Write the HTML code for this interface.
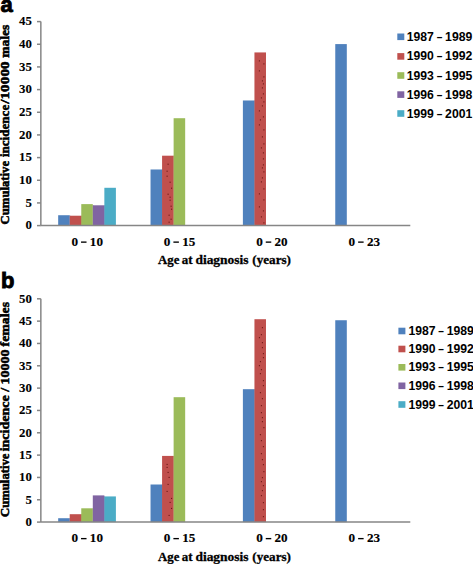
<!DOCTYPE html>
<html><head><meta charset="utf-8"><style>
html,body{margin:0;padding:0;background:#fff;}
body{width:473px;height:564px;overflow:hidden;}
svg{display:block;}
</style></head><body>
<svg width="473" height="564" viewBox="0 0 473 564">
<rect width="473" height="564" fill="#fff"/>
<rect x="58.17" y="215.22" width="11.55" height="10.38" fill="#4F81BD"/>
<rect x="69.61" y="215.72" width="0.8" height="9.88" fill="#4F81BD"/>
<rect x="69.71" y="215.72" width="11.55" height="9.88" fill="#C0504D"/>
<rect x="81.16" y="215.72" width="0.8" height="9.88" fill="#C0504D"/>
<rect x="81.26" y="204.11" width="11.55" height="21.49" fill="#9BBB59"/>
<rect x="92.70" y="205.29" width="0.8" height="20.31" fill="#9BBB59"/>
<rect x="92.80" y="205.29" width="11.55" height="20.31" fill="#8064A2"/>
<rect x="104.25" y="205.29" width="0.8" height="20.31" fill="#8064A2"/>
<rect x="104.35" y="187.79" width="11.55" height="37.81" fill="#4BACC6"/>
<rect x="150.53" y="169.48" width="11.55" height="56.12" fill="#4F81BD"/>
<rect x="161.98" y="169.48" width="0.8" height="56.12" fill="#4F81BD"/>
<rect x="162.08" y="155.70" width="11.55" height="69.90" fill="#C0504D"/>
<rect x="173.52" y="155.70" width="0.8" height="69.90" fill="#C0504D"/>
<rect x="173.62" y="118.21" width="11.55" height="107.39" fill="#9BBB59"/>
<rect x="242.89" y="100.48" width="11.55" height="125.12" fill="#4F81BD"/>
<rect x="254.34" y="100.48" width="0.8" height="125.12" fill="#4F81BD"/>
<rect x="254.44" y="52.43" width="11.55" height="173.17" fill="#C0504D"/>
<rect x="335.26" y="44.09" width="11.55" height="181.51" fill="#4F81BD"/>
<rect x="167.6" y="163.7" width="1" height="1" fill="#5a0c0a"/>
<rect x="166.6" y="170.7" width="1" height="1" fill="#5a0c0a"/>
<rect x="166.6" y="175.7" width="1" height="1" fill="#5a0c0a"/>
<rect x="169.6" y="181.7" width="1" height="1" fill="#5a0c0a"/>
<rect x="171.1" y="187.7" width="1" height="1" fill="#5a0c0a"/>
<rect x="167.6" y="193.7" width="1" height="1" fill="#5a0c0a"/>
<rect x="169.6" y="196.7" width="1" height="1" fill="#5a0c0a"/>
<rect x="169.6" y="199.7" width="1" height="1" fill="#5a0c0a"/>
<rect x="170.6" y="205.7" width="1" height="1" fill="#5a0c0a"/>
<rect x="171.1" y="208.7" width="1" height="1" fill="#5a0c0a"/>
<rect x="168.6" y="214.7" width="1" height="1" fill="#5a0c0a"/>
<rect x="170.6" y="218.7" width="1" height="1" fill="#5a0c0a"/>
<rect x="168.6" y="221.7" width="1" height="1" fill="#5a0c0a"/>
<rect x="258.9" y="60.4" width="1" height="1" fill="#5a0c0a"/>
<rect x="263.4" y="63.4" width="1" height="1" fill="#5a0c0a"/>
<rect x="258.9" y="70.4" width="1" height="1" fill="#5a0c0a"/>
<rect x="263.4" y="76.4" width="1" height="1" fill="#5a0c0a"/>
<rect x="261.9" y="80.4" width="1" height="1" fill="#5a0c0a"/>
<rect x="262.9" y="83.4" width="1" height="1" fill="#5a0c0a"/>
<rect x="261.9" y="87.4" width="1" height="1" fill="#5a0c0a"/>
<rect x="262.9" y="93.4" width="1" height="1" fill="#5a0c0a"/>
<rect x="260.9" y="97.4" width="1" height="1" fill="#5a0c0a"/>
<rect x="263.4" y="101.4" width="1" height="1" fill="#5a0c0a"/>
<rect x="261.9" y="105.4" width="1" height="1" fill="#5a0c0a"/>
<rect x="258.9" y="110.4" width="1" height="1" fill="#5a0c0a"/>
<rect x="262.9" y="116.4" width="1" height="1" fill="#5a0c0a"/>
<rect x="259.9" y="119.4" width="1" height="1" fill="#5a0c0a"/>
<rect x="258.9" y="124.4" width="1" height="1" fill="#5a0c0a"/>
<rect x="263.4" y="129.4" width="1" height="1" fill="#5a0c0a"/>
<rect x="261.9" y="136.4" width="1" height="1" fill="#5a0c0a"/>
<rect x="263.4" y="143.4" width="1" height="1" fill="#5a0c0a"/>
<rect x="260.9" y="147.4" width="1" height="1" fill="#5a0c0a"/>
<rect x="262.9" y="152.4" width="1" height="1" fill="#5a0c0a"/>
<rect x="262.9" y="158.4" width="1" height="1" fill="#5a0c0a"/>
<rect x="262.9" y="164.4" width="1" height="1" fill="#5a0c0a"/>
<rect x="261.9" y="167.4" width="1" height="1" fill="#5a0c0a"/>
<rect x="263.4" y="171.4" width="1" height="1" fill="#5a0c0a"/>
<rect x="261.9" y="177.4" width="1" height="1" fill="#5a0c0a"/>
<rect x="260.9" y="181.4" width="1" height="1" fill="#5a0c0a"/>
<rect x="263.4" y="188.4" width="1" height="1" fill="#5a0c0a"/>
<rect x="258.9" y="193.4" width="1" height="1" fill="#5a0c0a"/>
<rect x="263.4" y="199.4" width="1" height="1" fill="#5a0c0a"/>
<rect x="258.9" y="206.4" width="1" height="1" fill="#5a0c0a"/>
<rect x="262.9" y="210.4" width="1" height="1" fill="#5a0c0a"/>
<rect x="260.9" y="216.4" width="1" height="1" fill="#5a0c0a"/>
<rect x="263.4" y="222.4" width="1" height="1" fill="#5a0c0a"/>
<line x1="40.85" y1="21.60" x2="40.85" y2="225.60" stroke="#868686" stroke-width="1.5"/>
<line x1="40.85" y1="225.60" x2="410.3" y2="225.60" stroke="#868686" stroke-width="1.5"/>
<line x1="37" y1="225.60" x2="40.85" y2="225.60" stroke="#868686" stroke-width="1.5"/>
<text x="31.9" y="229.40" text-anchor="end" textLength="6.4" lengthAdjust="spacingAndGlyphs" style="font-family:'Liberation Serif',serif;font-weight:bold;stroke:#000;stroke-width:0.3px;font-size:13.5px;stroke-width:0.1px">0</text>
<line x1="37" y1="202.93" x2="40.85" y2="202.93" stroke="#868686" stroke-width="1.5"/>
<text x="31.9" y="206.73" text-anchor="end" textLength="6.4" lengthAdjust="spacingAndGlyphs" style="font-family:'Liberation Serif',serif;font-weight:bold;stroke:#000;stroke-width:0.3px;font-size:13.5px;stroke-width:0.1px">5</text>
<line x1="37" y1="180.27" x2="40.85" y2="180.27" stroke="#868686" stroke-width="1.5"/>
<text x="31.9" y="184.07" text-anchor="end" textLength="12.8" lengthAdjust="spacingAndGlyphs" style="font-family:'Liberation Serif',serif;font-weight:bold;stroke:#000;stroke-width:0.3px;font-size:13.5px;stroke-width:0.1px">10</text>
<line x1="37" y1="157.60" x2="40.85" y2="157.60" stroke="#868686" stroke-width="1.5"/>
<text x="31.9" y="161.40" text-anchor="end" textLength="12.8" lengthAdjust="spacingAndGlyphs" style="font-family:'Liberation Serif',serif;font-weight:bold;stroke:#000;stroke-width:0.3px;font-size:13.5px;stroke-width:0.1px">15</text>
<line x1="37" y1="134.93" x2="40.85" y2="134.93" stroke="#868686" stroke-width="1.5"/>
<text x="31.9" y="138.73" text-anchor="end" textLength="12.8" lengthAdjust="spacingAndGlyphs" style="font-family:'Liberation Serif',serif;font-weight:bold;stroke:#000;stroke-width:0.3px;font-size:13.5px;stroke-width:0.1px">20</text>
<line x1="37" y1="112.27" x2="40.85" y2="112.27" stroke="#868686" stroke-width="1.5"/>
<text x="31.9" y="116.07" text-anchor="end" textLength="12.8" lengthAdjust="spacingAndGlyphs" style="font-family:'Liberation Serif',serif;font-weight:bold;stroke:#000;stroke-width:0.3px;font-size:13.5px;stroke-width:0.1px">25</text>
<line x1="37" y1="89.60" x2="40.85" y2="89.60" stroke="#868686" stroke-width="1.5"/>
<text x="31.9" y="93.40" text-anchor="end" textLength="12.8" lengthAdjust="spacingAndGlyphs" style="font-family:'Liberation Serif',serif;font-weight:bold;stroke:#000;stroke-width:0.3px;font-size:13.5px;stroke-width:0.1px">30</text>
<line x1="37" y1="66.93" x2="40.85" y2="66.93" stroke="#868686" stroke-width="1.5"/>
<text x="31.9" y="70.73" text-anchor="end" textLength="12.8" lengthAdjust="spacingAndGlyphs" style="font-family:'Liberation Serif',serif;font-weight:bold;stroke:#000;stroke-width:0.3px;font-size:13.5px;stroke-width:0.1px">35</text>
<line x1="37" y1="44.27" x2="40.85" y2="44.27" stroke="#868686" stroke-width="1.5"/>
<text x="31.9" y="48.07" text-anchor="end" textLength="12.8" lengthAdjust="spacingAndGlyphs" style="font-family:'Liberation Serif',serif;font-weight:bold;stroke:#000;stroke-width:0.3px;font-size:13.5px;stroke-width:0.1px">40</text>
<line x1="37" y1="21.60" x2="40.85" y2="21.60" stroke="#868686" stroke-width="1.5"/>
<text x="31.9" y="25.40" text-anchor="end" textLength="12.8" lengthAdjust="spacingAndGlyphs" style="font-family:'Liberation Serif',serif;font-weight:bold;stroke:#000;stroke-width:0.3px;font-size:13.5px;stroke-width:0.1px">45</text>
<text x="71.43" y="245.50" textLength="6.6" lengthAdjust="spacingAndGlyphs" style="font-family:'Liberation Serif',serif;font-weight:bold;stroke:#000;stroke-width:0.3px;font-size:13.5px;stroke-width:0.15px">0</text>
<rect x="81.03" y="241.45" width="5.5" height="1.35" fill="#000"/>
<text x="89.83" y="245.50" textLength="13.1" lengthAdjust="spacingAndGlyphs" style="font-family:'Liberation Serif',serif;font-weight:bold;stroke:#000;stroke-width:0.3px;font-size:13.5px;stroke-width:0.15px">10</text>
<text x="163.79" y="245.50" textLength="6.6" lengthAdjust="spacingAndGlyphs" style="font-family:'Liberation Serif',serif;font-weight:bold;stroke:#000;stroke-width:0.3px;font-size:13.5px;stroke-width:0.15px">0</text>
<rect x="173.39" y="241.45" width="5.5" height="1.35" fill="#000"/>
<text x="182.19" y="245.50" textLength="13.1" lengthAdjust="spacingAndGlyphs" style="font-family:'Liberation Serif',serif;font-weight:bold;stroke:#000;stroke-width:0.3px;font-size:13.5px;stroke-width:0.15px">15</text>
<text x="256.16" y="245.50" textLength="6.6" lengthAdjust="spacingAndGlyphs" style="font-family:'Liberation Serif',serif;font-weight:bold;stroke:#000;stroke-width:0.3px;font-size:13.5px;stroke-width:0.15px">0</text>
<rect x="265.76" y="241.45" width="5.5" height="1.35" fill="#000"/>
<text x="274.56" y="245.50" textLength="13.1" lengthAdjust="spacingAndGlyphs" style="font-family:'Liberation Serif',serif;font-weight:bold;stroke:#000;stroke-width:0.3px;font-size:13.5px;stroke-width:0.15px">20</text>
<text x="348.52" y="245.50" textLength="6.6" lengthAdjust="spacingAndGlyphs" style="font-family:'Liberation Serif',serif;font-weight:bold;stroke:#000;stroke-width:0.3px;font-size:13.5px;stroke-width:0.15px">0</text>
<rect x="358.12" y="241.45" width="5.5" height="1.35" fill="#000"/>
<text x="366.92" y="245.50" textLength="13.1" lengthAdjust="spacingAndGlyphs" style="font-family:'Liberation Serif',serif;font-weight:bold;stroke:#000;stroke-width:0.3px;font-size:13.5px;stroke-width:0.15px">23</text>
<text x="158.10" y="264.40" textLength="21.30" lengthAdjust="spacingAndGlyphs" style="font-family:'Liberation Serif',serif;font-weight:bold;stroke:#000;stroke-width:0.3px;font-size:13.5px">Age</text>
<text x="181.70" y="264.40" textLength="10.80" lengthAdjust="spacingAndGlyphs" style="font-family:'Liberation Serif',serif;font-weight:bold;stroke:#000;stroke-width:0.3px;font-size:13.5px">at</text>
<text x="195.40" y="264.40" textLength="53.20" lengthAdjust="spacingAndGlyphs" style="font-family:'Liberation Serif',serif;font-weight:bold;stroke:#000;stroke-width:0.3px;font-size:13.5px">diagnosis</text>
<text x="252.30" y="264.40" textLength="38.70" lengthAdjust="spacingAndGlyphs" style="font-family:'Liberation Serif',serif;font-weight:bold;stroke:#000;stroke-width:0.3px;font-size:13.5px">(years)</text>
<text transform="translate(8.7,224.40) rotate(-90)" x="0" y="0" textLength="63.50" lengthAdjust="spacingAndGlyphs" style="font-family:'Liberation Serif',serif;font-weight:bold;stroke:#000;stroke-width:0.3px;font-size:13.5px;stroke-width:0.55px">Cumulative</text>
<text transform="translate(8.7,157.10) rotate(-90)" x="0" y="0" textLength="52.30" lengthAdjust="spacingAndGlyphs" style="font-family:'Liberation Serif',serif;font-weight:bold;stroke:#000;stroke-width:0.3px;font-size:13.5px;stroke-width:0.55px">incidence</text>
<text transform="translate(8.7,103.80) rotate(-90)" x="0" y="0" textLength="42.50" lengthAdjust="spacingAndGlyphs" style="font-family:'Liberation Serif',serif;font-weight:bold;stroke:#000;stroke-width:0.3px;font-size:13.5px;stroke-width:0.55px">/10000</text>
<text transform="translate(8.7,57.80) rotate(-90)" x="0" y="0" textLength="33.20" lengthAdjust="spacingAndGlyphs" style="font-family:'Liberation Serif',serif;font-weight:bold;stroke:#000;stroke-width:0.3px;font-size:13.5px;stroke-width:0.55px">males</text>
<rect x="397.3" y="33.50" width="7" height="6.6" fill="#4F81BD"/>
<rect x="397.3" y="53.10" width="7" height="6.6" fill="#C0504D"/>
<rect x="397.3" y="72.20" width="7" height="6.6" fill="#9BBB59"/>
<rect x="397.3" y="91.30" width="7" height="6.6" fill="#8064A2"/>
<rect x="397.3" y="110.20" width="7" height="6.6" fill="#4BACC6"/>
<text x="406.80" y="40.80" textLength="27.10" lengthAdjust="spacingAndGlyphs" style="font-family:'Liberation Sans',sans-serif;font-weight:bold;font-size:12.3px">1987</text>
<text x="436.70" y="40.80" textLength="5.60" lengthAdjust="spacingAndGlyphs" style="font-family:'Liberation Sans',sans-serif;font-weight:bold;font-size:12.3px">–</text>
<text x="445.10" y="40.80" textLength="27.20" lengthAdjust="spacingAndGlyphs" style="font-family:'Liberation Sans',sans-serif;font-weight:bold;font-size:12.3px">1989</text>
<text x="406.80" y="60.40" textLength="27.10" lengthAdjust="spacingAndGlyphs" style="font-family:'Liberation Sans',sans-serif;font-weight:bold;font-size:12.3px">1990</text>
<text x="436.70" y="60.40" textLength="5.60" lengthAdjust="spacingAndGlyphs" style="font-family:'Liberation Sans',sans-serif;font-weight:bold;font-size:12.3px">–</text>
<text x="445.10" y="60.40" textLength="27.20" lengthAdjust="spacingAndGlyphs" style="font-family:'Liberation Sans',sans-serif;font-weight:bold;font-size:12.3px">1992</text>
<text x="406.80" y="79.50" textLength="27.10" lengthAdjust="spacingAndGlyphs" style="font-family:'Liberation Sans',sans-serif;font-weight:bold;font-size:12.3px">1993</text>
<text x="436.70" y="79.50" textLength="5.60" lengthAdjust="spacingAndGlyphs" style="font-family:'Liberation Sans',sans-serif;font-weight:bold;font-size:12.3px">–</text>
<text x="445.10" y="79.50" textLength="27.20" lengthAdjust="spacingAndGlyphs" style="font-family:'Liberation Sans',sans-serif;font-weight:bold;font-size:12.3px">1995</text>
<text x="406.80" y="98.60" textLength="27.10" lengthAdjust="spacingAndGlyphs" style="font-family:'Liberation Sans',sans-serif;font-weight:bold;font-size:12.3px">1996</text>
<text x="436.70" y="98.60" textLength="5.60" lengthAdjust="spacingAndGlyphs" style="font-family:'Liberation Sans',sans-serif;font-weight:bold;font-size:12.3px">–</text>
<text x="445.10" y="98.60" textLength="27.20" lengthAdjust="spacingAndGlyphs" style="font-family:'Liberation Sans',sans-serif;font-weight:bold;font-size:12.3px">1998</text>
<text x="406.80" y="117.50" textLength="27.10" lengthAdjust="spacingAndGlyphs" style="font-family:'Liberation Sans',sans-serif;font-weight:bold;font-size:12.3px">1999</text>
<text x="436.70" y="117.50" textLength="5.60" lengthAdjust="spacingAndGlyphs" style="font-family:'Liberation Sans',sans-serif;font-weight:bold;font-size:12.3px">–</text>
<text x="445.10" y="117.50" textLength="27.20" lengthAdjust="spacingAndGlyphs" style="font-family:'Liberation Sans',sans-serif;font-weight:bold;font-size:12.3px">2001</text>
<text x="0.5" y="12" style="font-family:'Liberation Sans',sans-serif;font-weight:bold;font-size:22px;stroke:#000;stroke-width:0.9px">a</text>
<rect x="58.17" y="518.21" width="11.55" height="3.89" fill="#4F81BD"/>
<rect x="69.61" y="518.21" width="0.8" height="3.89" fill="#4F81BD"/>
<rect x="69.71" y="514.20" width="11.55" height="7.90" fill="#C0504D"/>
<rect x="81.16" y="514.20" width="0.8" height="7.90" fill="#C0504D"/>
<rect x="81.26" y="508.30" width="11.55" height="13.80" fill="#9BBB59"/>
<rect x="92.70" y="508.30" width="0.8" height="13.80" fill="#9BBB59"/>
<rect x="92.80" y="495.39" width="11.55" height="26.71" fill="#8064A2"/>
<rect x="104.25" y="496.42" width="0.8" height="25.68" fill="#8064A2"/>
<rect x="104.35" y="496.42" width="11.55" height="25.68" fill="#4BACC6"/>
<rect x="150.53" y="484.50" width="11.55" height="37.60" fill="#4F81BD"/>
<rect x="161.98" y="484.50" width="0.8" height="37.60" fill="#4F81BD"/>
<rect x="162.08" y="455.91" width="11.55" height="66.19" fill="#C0504D"/>
<rect x="173.52" y="455.91" width="0.8" height="66.19" fill="#C0504D"/>
<rect x="173.62" y="397.19" width="11.55" height="124.91" fill="#9BBB59"/>
<rect x="242.89" y="389.19" width="11.55" height="132.91" fill="#4F81BD"/>
<rect x="254.34" y="389.19" width="0.8" height="132.91" fill="#4F81BD"/>
<rect x="254.44" y="319.21" width="11.55" height="202.89" fill="#C0504D"/>
<rect x="335.26" y="320.24" width="11.55" height="201.86" fill="#4F81BD"/>
<rect x="166.6" y="463.9" width="1" height="1" fill="#5a0c0a"/>
<rect x="166.6" y="466.9" width="1" height="1" fill="#5a0c0a"/>
<rect x="167.6" y="471.9" width="1" height="1" fill="#5a0c0a"/>
<rect x="168.6" y="476.9" width="1" height="1" fill="#5a0c0a"/>
<rect x="167.6" y="483.9" width="1" height="1" fill="#5a0c0a"/>
<rect x="166.6" y="490.9" width="1" height="1" fill="#5a0c0a"/>
<rect x="171.1" y="497.9" width="1" height="1" fill="#5a0c0a"/>
<rect x="169.6" y="501.9" width="1" height="1" fill="#5a0c0a"/>
<rect x="171.1" y="507.9" width="1" height="1" fill="#5a0c0a"/>
<rect x="168.6" y="514.9" width="1" height="1" fill="#5a0c0a"/>
<rect x="261.9" y="327.2" width="1" height="1" fill="#5a0c0a"/>
<rect x="260.9" y="334.2" width="1" height="1" fill="#5a0c0a"/>
<rect x="258.9" y="337.2" width="1" height="1" fill="#5a0c0a"/>
<rect x="261.9" y="342.2" width="1" height="1" fill="#5a0c0a"/>
<rect x="261.9" y="347.2" width="1" height="1" fill="#5a0c0a"/>
<rect x="262.9" y="353.2" width="1" height="1" fill="#5a0c0a"/>
<rect x="262.9" y="357.2" width="1" height="1" fill="#5a0c0a"/>
<rect x="259.9" y="361.2" width="1" height="1" fill="#5a0c0a"/>
<rect x="258.9" y="365.2" width="1" height="1" fill="#5a0c0a"/>
<rect x="260.9" y="369.2" width="1" height="1" fill="#5a0c0a"/>
<rect x="259.9" y="373.2" width="1" height="1" fill="#5a0c0a"/>
<rect x="262.9" y="380.2" width="1" height="1" fill="#5a0c0a"/>
<rect x="262.9" y="385.2" width="1" height="1" fill="#5a0c0a"/>
<rect x="259.9" y="392.2" width="1" height="1" fill="#5a0c0a"/>
<rect x="261.9" y="398.2" width="1" height="1" fill="#5a0c0a"/>
<rect x="260.9" y="405.2" width="1" height="1" fill="#5a0c0a"/>
<rect x="260.9" y="412.2" width="1" height="1" fill="#5a0c0a"/>
<rect x="261.9" y="417.2" width="1" height="1" fill="#5a0c0a"/>
<rect x="261.9" y="421.2" width="1" height="1" fill="#5a0c0a"/>
<rect x="263.4" y="427.2" width="1" height="1" fill="#5a0c0a"/>
<rect x="259.9" y="434.2" width="1" height="1" fill="#5a0c0a"/>
<rect x="260.9" y="440.2" width="1" height="1" fill="#5a0c0a"/>
<rect x="262.9" y="446.2" width="1" height="1" fill="#5a0c0a"/>
<rect x="260.9" y="453.2" width="1" height="1" fill="#5a0c0a"/>
<rect x="261.9" y="459.2" width="1" height="1" fill="#5a0c0a"/>
<rect x="262.9" y="464.2" width="1" height="1" fill="#5a0c0a"/>
<rect x="263.4" y="471.2" width="1" height="1" fill="#5a0c0a"/>
<rect x="261.9" y="477.2" width="1" height="1" fill="#5a0c0a"/>
<rect x="260.9" y="481.2" width="1" height="1" fill="#5a0c0a"/>
<rect x="262.9" y="485.2" width="1" height="1" fill="#5a0c0a"/>
<rect x="261.9" y="490.2" width="1" height="1" fill="#5a0c0a"/>
<rect x="260.9" y="495.2" width="1" height="1" fill="#5a0c0a"/>
<rect x="262.9" y="502.2" width="1" height="1" fill="#5a0c0a"/>
<rect x="262.9" y="509.2" width="1" height="1" fill="#5a0c0a"/>
<rect x="262.9" y="516.2" width="1" height="1" fill="#5a0c0a"/>
<line x1="40.85" y1="298.80" x2="40.85" y2="522.10" stroke="#868686" stroke-width="1.5"/>
<line x1="40.85" y1="522.10" x2="410.3" y2="522.10" stroke="#868686" stroke-width="1.5"/>
<line x1="37" y1="522.10" x2="40.85" y2="522.10" stroke="#868686" stroke-width="1.5"/>
<text x="31.9" y="525.90" text-anchor="end" textLength="6.4" lengthAdjust="spacingAndGlyphs" style="font-family:'Liberation Serif',serif;font-weight:bold;stroke:#000;stroke-width:0.3px;font-size:13.5px;stroke-width:0.1px">0</text>
<line x1="37" y1="499.77" x2="40.85" y2="499.77" stroke="#868686" stroke-width="1.5"/>
<text x="31.9" y="503.57" text-anchor="end" textLength="6.4" lengthAdjust="spacingAndGlyphs" style="font-family:'Liberation Serif',serif;font-weight:bold;stroke:#000;stroke-width:0.3px;font-size:13.5px;stroke-width:0.1px">5</text>
<line x1="37" y1="477.44" x2="40.85" y2="477.44" stroke="#868686" stroke-width="1.5"/>
<text x="31.9" y="481.24" text-anchor="end" textLength="12.8" lengthAdjust="spacingAndGlyphs" style="font-family:'Liberation Serif',serif;font-weight:bold;stroke:#000;stroke-width:0.3px;font-size:13.5px;stroke-width:0.1px">10</text>
<line x1="37" y1="455.11" x2="40.85" y2="455.11" stroke="#868686" stroke-width="1.5"/>
<text x="31.9" y="458.91" text-anchor="end" textLength="12.8" lengthAdjust="spacingAndGlyphs" style="font-family:'Liberation Serif',serif;font-weight:bold;stroke:#000;stroke-width:0.3px;font-size:13.5px;stroke-width:0.1px">15</text>
<line x1="37" y1="432.78" x2="40.85" y2="432.78" stroke="#868686" stroke-width="1.5"/>
<text x="31.9" y="436.58" text-anchor="end" textLength="12.8" lengthAdjust="spacingAndGlyphs" style="font-family:'Liberation Serif',serif;font-weight:bold;stroke:#000;stroke-width:0.3px;font-size:13.5px;stroke-width:0.1px">20</text>
<line x1="37" y1="410.45" x2="40.85" y2="410.45" stroke="#868686" stroke-width="1.5"/>
<text x="31.9" y="414.25" text-anchor="end" textLength="12.8" lengthAdjust="spacingAndGlyphs" style="font-family:'Liberation Serif',serif;font-weight:bold;stroke:#000;stroke-width:0.3px;font-size:13.5px;stroke-width:0.1px">25</text>
<line x1="37" y1="388.12" x2="40.85" y2="388.12" stroke="#868686" stroke-width="1.5"/>
<text x="31.9" y="391.92" text-anchor="end" textLength="12.8" lengthAdjust="spacingAndGlyphs" style="font-family:'Liberation Serif',serif;font-weight:bold;stroke:#000;stroke-width:0.3px;font-size:13.5px;stroke-width:0.1px">30</text>
<line x1="37" y1="365.79" x2="40.85" y2="365.79" stroke="#868686" stroke-width="1.5"/>
<text x="31.9" y="369.59" text-anchor="end" textLength="12.8" lengthAdjust="spacingAndGlyphs" style="font-family:'Liberation Serif',serif;font-weight:bold;stroke:#000;stroke-width:0.3px;font-size:13.5px;stroke-width:0.1px">35</text>
<line x1="37" y1="343.46" x2="40.85" y2="343.46" stroke="#868686" stroke-width="1.5"/>
<text x="31.9" y="347.26" text-anchor="end" textLength="12.8" lengthAdjust="spacingAndGlyphs" style="font-family:'Liberation Serif',serif;font-weight:bold;stroke:#000;stroke-width:0.3px;font-size:13.5px;stroke-width:0.1px">40</text>
<line x1="37" y1="321.13" x2="40.85" y2="321.13" stroke="#868686" stroke-width="1.5"/>
<text x="31.9" y="324.93" text-anchor="end" textLength="12.8" lengthAdjust="spacingAndGlyphs" style="font-family:'Liberation Serif',serif;font-weight:bold;stroke:#000;stroke-width:0.3px;font-size:13.5px;stroke-width:0.1px">45</text>
<line x1="37" y1="298.80" x2="40.85" y2="298.80" stroke="#868686" stroke-width="1.5"/>
<text x="31.9" y="302.60" text-anchor="end" textLength="12.8" lengthAdjust="spacingAndGlyphs" style="font-family:'Liberation Serif',serif;font-weight:bold;stroke:#000;stroke-width:0.3px;font-size:13.5px;stroke-width:0.1px">50</text>
<text x="71.43" y="542.00" textLength="6.6" lengthAdjust="spacingAndGlyphs" style="font-family:'Liberation Serif',serif;font-weight:bold;stroke:#000;stroke-width:0.3px;font-size:13.5px;stroke-width:0.15px">0</text>
<rect x="81.03" y="537.95" width="5.5" height="1.35" fill="#000"/>
<text x="89.83" y="542.00" textLength="13.1" lengthAdjust="spacingAndGlyphs" style="font-family:'Liberation Serif',serif;font-weight:bold;stroke:#000;stroke-width:0.3px;font-size:13.5px;stroke-width:0.15px">10</text>
<text x="163.79" y="542.00" textLength="6.6" lengthAdjust="spacingAndGlyphs" style="font-family:'Liberation Serif',serif;font-weight:bold;stroke:#000;stroke-width:0.3px;font-size:13.5px;stroke-width:0.15px">0</text>
<rect x="173.39" y="537.95" width="5.5" height="1.35" fill="#000"/>
<text x="182.19" y="542.00" textLength="13.1" lengthAdjust="spacingAndGlyphs" style="font-family:'Liberation Serif',serif;font-weight:bold;stroke:#000;stroke-width:0.3px;font-size:13.5px;stroke-width:0.15px">15</text>
<text x="256.16" y="542.00" textLength="6.6" lengthAdjust="spacingAndGlyphs" style="font-family:'Liberation Serif',serif;font-weight:bold;stroke:#000;stroke-width:0.3px;font-size:13.5px;stroke-width:0.15px">0</text>
<rect x="265.76" y="537.95" width="5.5" height="1.35" fill="#000"/>
<text x="274.56" y="542.00" textLength="13.1" lengthAdjust="spacingAndGlyphs" style="font-family:'Liberation Serif',serif;font-weight:bold;stroke:#000;stroke-width:0.3px;font-size:13.5px;stroke-width:0.15px">20</text>
<text x="348.52" y="542.00" textLength="6.6" lengthAdjust="spacingAndGlyphs" style="font-family:'Liberation Serif',serif;font-weight:bold;stroke:#000;stroke-width:0.3px;font-size:13.5px;stroke-width:0.15px">0</text>
<rect x="358.12" y="537.95" width="5.5" height="1.35" fill="#000"/>
<text x="366.92" y="542.00" textLength="13.1" lengthAdjust="spacingAndGlyphs" style="font-family:'Liberation Serif',serif;font-weight:bold;stroke:#000;stroke-width:0.3px;font-size:13.5px;stroke-width:0.15px">23</text>
<text x="158.10" y="560.60" textLength="21.30" lengthAdjust="spacingAndGlyphs" style="font-family:'Liberation Serif',serif;font-weight:bold;stroke:#000;stroke-width:0.3px;font-size:13.5px">Age</text>
<text x="181.70" y="560.60" textLength="10.80" lengthAdjust="spacingAndGlyphs" style="font-family:'Liberation Serif',serif;font-weight:bold;stroke:#000;stroke-width:0.3px;font-size:13.5px">at</text>
<text x="195.40" y="560.60" textLength="53.20" lengthAdjust="spacingAndGlyphs" style="font-family:'Liberation Serif',serif;font-weight:bold;stroke:#000;stroke-width:0.3px;font-size:13.5px">diagnosis</text>
<text x="252.30" y="560.60" textLength="38.70" lengthAdjust="spacingAndGlyphs" style="font-family:'Liberation Serif',serif;font-weight:bold;stroke:#000;stroke-width:0.3px;font-size:13.5px">(years)</text>
<text transform="translate(8.7,516.90) rotate(-90)" x="0" y="0" textLength="63.30" lengthAdjust="spacingAndGlyphs" style="font-family:'Liberation Serif',serif;font-weight:bold;stroke:#000;stroke-width:0.3px;font-size:13.5px;stroke-width:0.55px">Cumulative</text>
<text transform="translate(8.7,451.30) rotate(-90)" x="0" y="0" textLength="101.80" lengthAdjust="spacingAndGlyphs" style="font-family:'Liberation Serif',serif;font-weight:bold;stroke:#000;stroke-width:0.3px;font-size:13.5px;stroke-width:0.55px">incidence / 10000</text>
<text transform="translate(8.7,346.40) rotate(-90)" x="0" y="0" textLength="44.40" lengthAdjust="spacingAndGlyphs" style="font-family:'Liberation Serif',serif;font-weight:bold;stroke:#000;stroke-width:0.3px;font-size:13.5px;stroke-width:0.55px">females</text>
<rect x="398.4" y="327.70" width="7" height="6.6" fill="#4F81BD"/>
<rect x="398.4" y="345.70" width="7" height="6.6" fill="#C0504D"/>
<rect x="398.4" y="364.00" width="7" height="6.6" fill="#9BBB59"/>
<rect x="398.4" y="382.50" width="7" height="6.6" fill="#8064A2"/>
<rect x="398.4" y="401.20" width="7" height="6.6" fill="#4BACC6"/>
<text x="408.40" y="335.00" textLength="27.10" lengthAdjust="spacingAndGlyphs" style="font-family:'Liberation Sans',sans-serif;font-weight:bold;font-size:12.3px">1987</text>
<text x="438.30" y="335.00" textLength="5.60" lengthAdjust="spacingAndGlyphs" style="font-family:'Liberation Sans',sans-serif;font-weight:bold;font-size:12.3px">–</text>
<text x="446.70" y="335.00" textLength="27.20" lengthAdjust="spacingAndGlyphs" style="font-family:'Liberation Sans',sans-serif;font-weight:bold;font-size:12.3px">1989</text>
<text x="408.40" y="353.00" textLength="27.10" lengthAdjust="spacingAndGlyphs" style="font-family:'Liberation Sans',sans-serif;font-weight:bold;font-size:12.3px">1990</text>
<text x="438.30" y="353.00" textLength="5.60" lengthAdjust="spacingAndGlyphs" style="font-family:'Liberation Sans',sans-serif;font-weight:bold;font-size:12.3px">–</text>
<text x="446.70" y="353.00" textLength="27.20" lengthAdjust="spacingAndGlyphs" style="font-family:'Liberation Sans',sans-serif;font-weight:bold;font-size:12.3px">1992</text>
<text x="408.40" y="371.30" textLength="27.10" lengthAdjust="spacingAndGlyphs" style="font-family:'Liberation Sans',sans-serif;font-weight:bold;font-size:12.3px">1993</text>
<text x="438.30" y="371.30" textLength="5.60" lengthAdjust="spacingAndGlyphs" style="font-family:'Liberation Sans',sans-serif;font-weight:bold;font-size:12.3px">–</text>
<text x="446.70" y="371.30" textLength="27.20" lengthAdjust="spacingAndGlyphs" style="font-family:'Liberation Sans',sans-serif;font-weight:bold;font-size:12.3px">1995</text>
<text x="408.40" y="389.80" textLength="27.10" lengthAdjust="spacingAndGlyphs" style="font-family:'Liberation Sans',sans-serif;font-weight:bold;font-size:12.3px">1996</text>
<text x="438.30" y="389.80" textLength="5.60" lengthAdjust="spacingAndGlyphs" style="font-family:'Liberation Sans',sans-serif;font-weight:bold;font-size:12.3px">–</text>
<text x="446.70" y="389.80" textLength="27.20" lengthAdjust="spacingAndGlyphs" style="font-family:'Liberation Sans',sans-serif;font-weight:bold;font-size:12.3px">1998</text>
<text x="408.40" y="408.50" textLength="27.10" lengthAdjust="spacingAndGlyphs" style="font-family:'Liberation Sans',sans-serif;font-weight:bold;font-size:12.3px">1999</text>
<text x="438.30" y="408.50" textLength="5.60" lengthAdjust="spacingAndGlyphs" style="font-family:'Liberation Sans',sans-serif;font-weight:bold;font-size:12.3px">–</text>
<text x="446.70" y="408.50" textLength="27.20" lengthAdjust="spacingAndGlyphs" style="font-family:'Liberation Sans',sans-serif;font-weight:bold;font-size:12.3px">2001</text>
<text x="1" y="288" style="font-family:'Liberation Sans',sans-serif;font-weight:bold;font-size:22px;stroke:#000;stroke-width:0.9px">b</text>
</svg></body></html>
